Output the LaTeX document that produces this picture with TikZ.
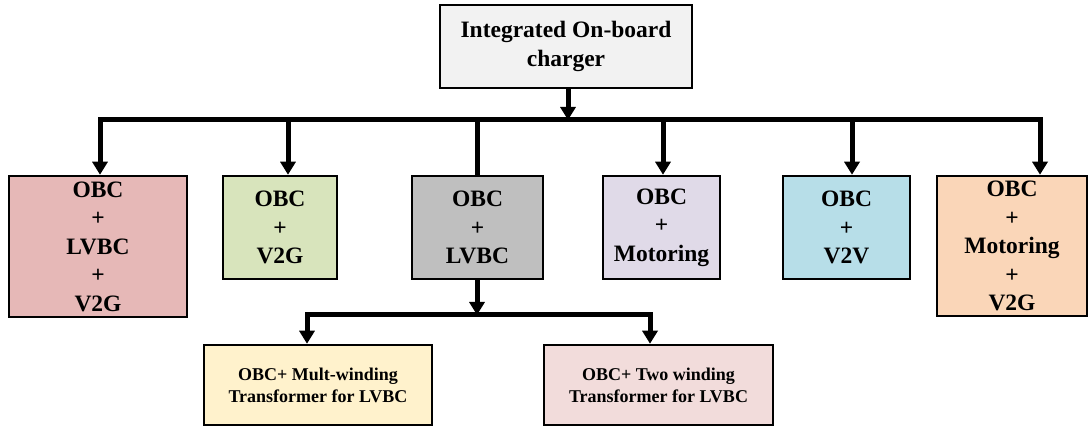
\documentclass[tikz,border=0pt]{standalone}
\usepackage{fontspec}
\setmainfont{Liberation Serif}
\usetikzlibrary{arrows.meta,calc}
\definecolor{ctop}{HTML}{F2F2F2}
\definecolor{cpink}{HTML}{E6B8B7}
\definecolor{cgreen}{HTML}{D8E4BC}
\definecolor{cgray}{HTML}{BFBFBF}
\definecolor{clav}{HTML}{E0DAE8}
\definecolor{cblue}{HTML}{B7DEE8}
\definecolor{cpeach}{HTML}{FAD6B8}
\definecolor{cyel}{HTML}{FFF2CC}
\definecolor{crose}{HTML}{F2DCDB}
\tikzset{
  box/.style={draw=black, line width=2.5pt, rectangle, align=center, inner sep=0pt,
    font=\fontsize{23.5}{28.5}\selectfont\bfseries},
  smallbox/.style={box, font=\fontsize{18}{22}\selectfont\bfseries},
  conn/.style={line width=5pt, draw=black},
  arr/.style={conn, -{Triangle[width=15pt,length=13pt]}},
  arr2/.style={conn, {Triangle[width=15pt,length=13pt]}-{Triangle[width=15pt,length=13pt]}},
}
\begin{document}
\begin{tikzpicture}[x=1pt,y=-1pt]
\useasboundingbox (0,0) rectangle (1089,427);
\node[box, fill=ctop, minimum width=252pt, minimum height=83pt] (top) at (566,46.5) {Integrated On-board\\charger};
\node[box, fill=cpink, minimum width=178pt, minimum height=141pt] (b1) at (98,246.5) {OBC\\+\\LVBC\\+\\V2G};
\node[box, fill=cgreen, minimum width=114pt, minimum height=103pt] (b2) at (280,227.5) {OBC\\+\\V2G};
\node[box, fill=cgray, minimum width=131pt, minimum height=103pt] (b3) at (477.5,227.5) {OBC\\+\\LVBC};
\node[box, fill=clav, minimum width=117pt, minimum height=103pt] (b4) at (661.5,227.5) {OBC\\+\\Motoring};
\node[box, fill=cblue, minimum width=127pt, minimum height=103pt] (b5) at (846.5,227.5) {OBC\\+\\V2V};
\node[box, fill=cpeach, minimum width=150pt, minimum height=140pt] (b6) at (1012,246) {OBC\\+\\Motoring\\+\\V2G};
\node[smallbox, fill=cyel, minimum width=228pt, minimum height=80pt] (ba) at (318,385) {OBC+ Mult-winding\\Transformer for LVBC};
\node[smallbox, fill=crose, minimum width=229pt, minimum height=80pt] (bb) at (658.5,385) {OBC+ Two winding\\Transformer for LVBC};
% bus junctions
\coordinate (bj) at (568,120);
\coordinate (bj2) at (477,315);
% end points of drops
\coordinate (e1) at ($(b1.north)+(2,0)$);
\coordinate (e6) at ($(b6.north)+(28,0)$);
\coordinate (e2) at ($(b2.north)+(8,0)$);
\coordinate (e4) at ($(b4.north)+(1.5,0)$);
\coordinate (e5) at ($(b5.north)+(5.5,0)$);
\coordinate (ea) at ($(ba.north)+(-11,0)$);
\coordinate (eb) at ($(bb.north)+(-8.5,0)$);
% top to bus
\draw[arr] (top.south -| bj) -- (bj);
\draw[arr2] (e1) |- (bj) -| (e6);
\draw[arr] (e2 |- bj) -- (e2);
\draw[conn] (b3.north -| bj2) -- (bj2 |- bj);
\draw[arr] (e4 |- bj) -- (e4);
\draw[arr] (e5 |- bj) -- (e5);
% second level
\draw[arr] (b3.south -| bj2) -- (bj2);
\draw[arr2] (ea) |- (bj2) -| (eb);
\end{tikzpicture}
\end{document}
